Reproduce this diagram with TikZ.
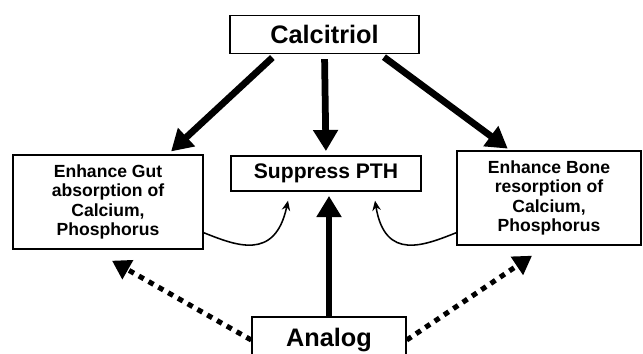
\documentclass[tikz,border=0pt]{standalone}
\usepackage{fontspec}
\setmainfont{Liberation Sans}
\usetikzlibrary{arrows.meta, calc}

\begin{document}
\begin{tikzpicture}[
  x=0.025cm, y=-0.025cm,
  box/.style={
    rectangle, draw, line width=1pt, fill=white,
    align=center, inner sep=0pt, font=\bfseries
  },
  bigline/.style={draw, line width=4.8pt, -{Triangle[width=17pt, length=15pt]}},
  dotline/.style={draw, line width=3.6pt, dash pattern=on 4pt off 4pt,
    -{Triangle[width=15pt, length=13pt]}},
  thinline/.style={draw, line width=1.1pt, -{Stealth[width=6pt, length=7pt]}}
]
  \clip (0,0) rectangle (643,354);

  \node [box, minimum width=4.725cm, minimum height=0.95cm,
    font=\bfseries\fontsize{18}{20}\selectfont] (calc) at (324.5,34.5) {Calcitriol};
  \node [box, minimum width=4.75cm, minimum height=0.875cm,
    font=\bfseries\fontsize{15}{17}\selectfont] (pth) at (326,173.5) {Suppress PTH};
  \node [box, minimum width=4.75cm, minimum height=2.35cm,
    font=\bfseries\fontsize{12.5}{13.8}\selectfont] (gut) at (108,202)
    {Enhance Gut\\ absorption of\\ Calcium,\\ Phosphorus};
  \node [box, minimum width=4.6cm, minimum height=2.35cm,
    font=\bfseries\fontsize{12.5}{13.8}\selectfont] (bone) at (549,198)
    {Enhance Bone\\ resorption of\\ Calcium,\\ Phosphorus};
  \node [box, minimum width=3.85cm, minimum height=1.15cm,
    font=\bfseries\fontsize{18}{20}\selectfont] (analog) at (329,340) {Analog};

  % calcitriol actions
  \path [bigline, shorten <=3.5pt, shorten >=3pt] ($(calc.south)+(-48.5,0)$) -- ($(gut.north)+(60,0)$);
  \path [bigline, shorten <=3.5pt, shorten >=3pt] (calc.south) -- (pth.north);
  \path [bigline, shorten <=3.5pt, shorten >=2pt] ($(calc.south)+(55.5,0)$) -- ($(bone.north)+(-39,0)$);

  % analog actions
  \path [bigline, shorten >=3pt] (analog.north) -- ($(pth.south)+(3,0)$);
  \path [dotline] (analog.west) -- ($(gut.south)+(4,11)$);
  \path [dotline] (analog.east) -- ($(bone.south)+(-17,10)$);

  % feedback to PTH
  \path [thinline] ($(gut.south east)+(0,-17)$) .. controls (235,245) and (275,262) .. ($(pth.south)+(-38,9)$);
  \path [thinline] ($(bone.south west)+(0,-13)$) .. controls (425,245) and (385,262) .. ($(pth.south)+(49,9)$);

\end{tikzpicture}
\end{document}
